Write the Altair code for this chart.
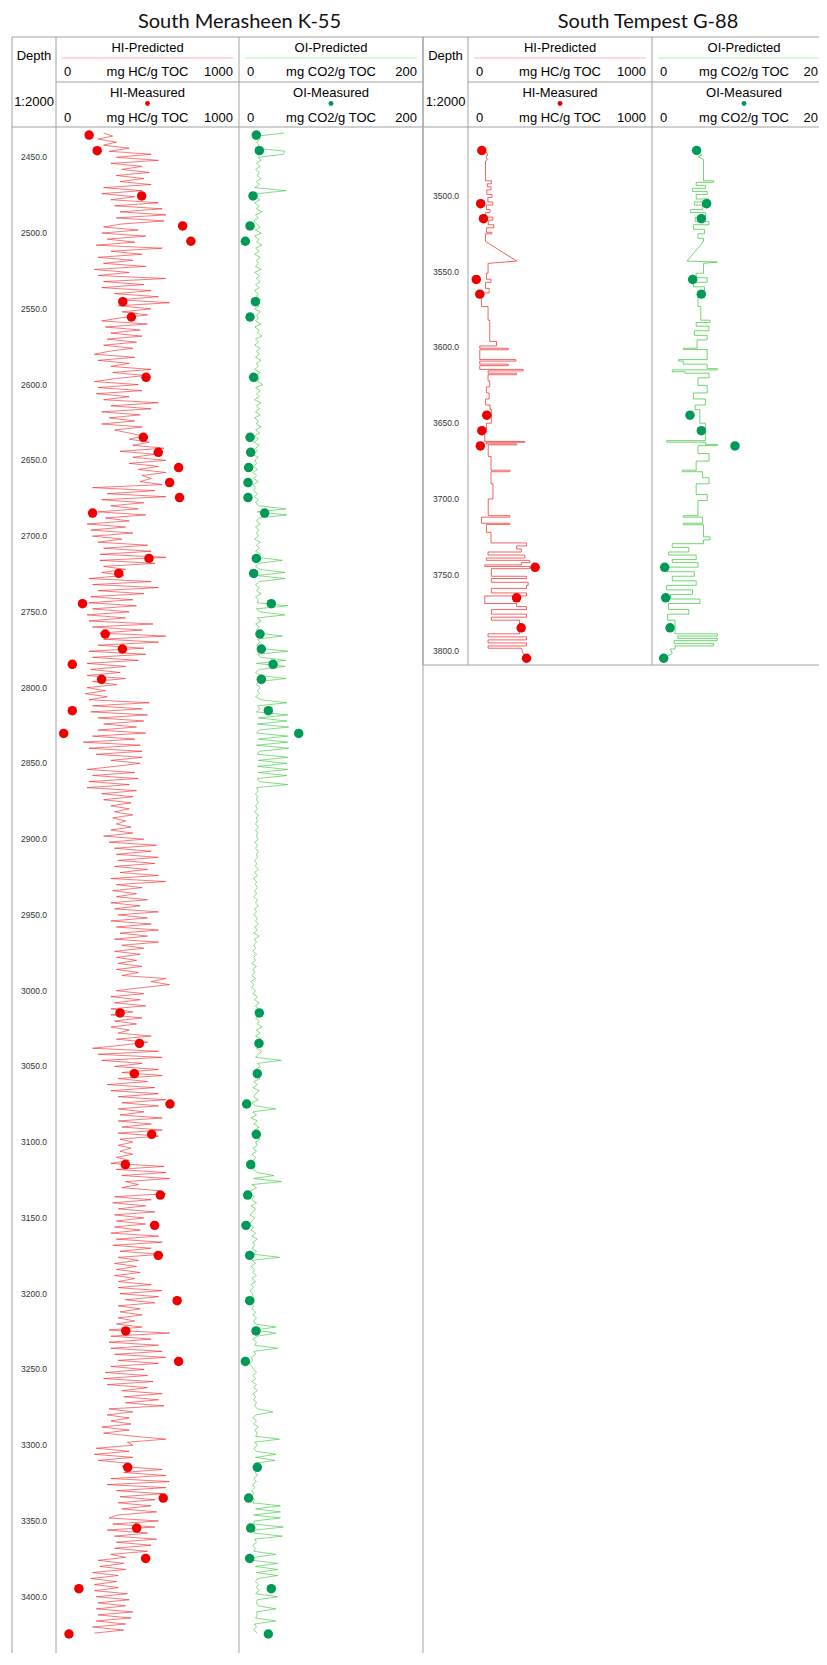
import altair as alt
import pandas as pd

# ---------------- data ----------------
TITLE_1 = "South Merasheen K-55"
TITLE_2 = "South Tempest G-88"

# South Merasheen K-55 : predicted curves sampled every 2 m from 2434 m
L_START = 2434
L_STEP = 2
L_HI_PRED = [
    260, 310, 230, 330, 260, 400, 290, 520, 330, 560,
    300, 470, 360, 510, 330, 480, 350, 520, 260, 470,
    250, 430, 300, 560, 320, 580, 350, 600, 330, 590,
    360, 260, 450, 250, 490, 280, 430, 220, 580, 300,
    470, 230, 420, 260, 490, 210, 400, 230, 600, 260,
    480, 250, 520, 320, 560, 350, 620, 340, 520, 360,
    500, 350, 250, 500, 270, 460, 300, 470, 280, 440,
    260, 420, 290, 210, 430, 230, 400, 300, 520, 310,
    490, 330, 210, 450, 230, 470, 220, 400, 260, 560,
    300, 520, 250, 460, 290, 430, 250, 470, 320, 400,
    480, 400, 510, 420, 590, 350, 540, 420, 600, 400,
    560, 450, 600, 470, 520, 460, 580, 200, 540, 280,
    600, 250, 480, 300, 450, 230, 490, 270, 400, 170,
    380, 190, 420, 200, 360, 230, 500, 260, 520, 240,
    600, 240, 540, 260, 380, 250, 370, 180, 520, 200,
    560, 230, 480, 190, 420, 180, 440, 200, 400, 170,
    380, 180, 530, 200, 470, 240, 600, 260, 560, 230,
    480, 180, 490, 200, 450, 170, 380, 190, 350, 170,
    380, 200, 330, 170, 270, 160, 280, 180, 510, 200,
    470, 190, 500, 230, 480, 260, 440, 230, 490, 200,
    430, 150, 460, 180, 470, 220, 470, 300, 460, 320,
    170, 430, 200, 450, 180, 400, 170, 440, 250, 420,
    260, 410, 300, 400, 320, 420, 310, 380, 330, 410,
    300, 420, 260, 480, 290, 550, 320, 520, 330, 560,
    340, 540, 320, 500, 350, 560, 300, 600, 330, 470,
    310, 440, 330, 500, 300, 460, 320, 560, 340, 500,
    300, 520, 330, 560, 350, 500, 320, 560, 360, 480,
    320, 460, 330, 440, 340, 470, 330, 450, 360, 600,
    520, 620, 470, 330, 480, 300, 460, 320, 490, 300,
    420, 300, 470, 320, 440, 300, 400, 340, 520, 330,
    500, 360, 200, 560, 230, 580, 250, 470, 320, 560,
    360, 580, 340, 500, 280, 540, 300, 560, 340, 600,
    360, 560, 340, 480, 350, 580, 340, 520, 360, 580,
    340, 560, 350, 420, 340, 410, 350, 420, 330, 400,
    300, 590, 330, 600, 360, 620, 380, 450, 360, 560,
    600, 320, 520, 310, 490, 340, 540, 320, 480, 330,
    490, 320, 460, 300, 560, 330, 580, 310, 520, 350,
    580, 340, 450, 320, 440, 330, 460, 320, 430, 340,
    520, 340, 580, 350, 560, 380, 540, 340, 460, 350,
    470, 340, 430, 330, 470, 290, 620, 300, 520, 290,
    560, 300, 580, 320, 600, 340, 560, 300, 480, 270,
    500, 260, 530, 280, 500, 360, 580, 370, 560, 380,
    590, 290, 420, 280, 400, 300, 410, 250, 400, 260,
    420, 600, 390, 420, 220, 400, 210, 420, 230, 400,
    360, 580, 370, 600, 300, 620, 280, 600, 330, 580,
    350, 540, 340, 520, 360, 550, 340, 290, 560, 310,
    540, 280, 500, 320, 550, 330, 520, 320, 500, 300,
    380, 230, 370, 240, 380, 200, 340, 190, 330, 210,
    340, 210, 390, 220, 400, 230, 380, 220, 420, 230,
    410, 220, 380, 200, 370, 210,
]
L_OI_PRED = [
    49, 20, 23, 19, 22, 18, 50, 48, 21, 24,
    19, 23, 18, 22, 20, 24, 19, 22, 17, 51,
    21, 18, 23, 17, 22, 19, 25, 18, 21, 16,
    19, 23, 18, 24, 17, 22, 19, 25, 18, 22,
    17, 23, 19, 21, 18, 24, 17, 22, 19, 23,
    18, 22, 17, 21, 19, 24, 18, 22, 17, 23,
    19, 21, 18, 24, 17, 22, 20, 25, 18, 21,
    17, 23, 19, 22, 18, 24, 19, 21, 17, 23,
    18, 22, 20, 26, 18, 23, 19, 22, 17, 24,
    19, 22, 18, 23, 17, 21, 19, 24, 18, 22,
    17, 21, 16, 22, 18, 20, 15, 21, 17, 19,
    16, 20, 15, 19, 16, 21, 15, 18, 16, 20,
    17, 21, 18, 22, 51, 20, 52, 22, 19, 23,
    18, 22, 19, 21, 17, 23, 19, 22, 18, 24,
    20, 47, 21, 18, 23, 50, 19, 50, 22, 18,
    22, 19, 24, 18, 21, 20, 53, 19, 23, 50,
    20, 24, 18, 22, 19, 21, 47, 20, 23, 19,
    22, 53, 20, 24, 51, 19, 50, 22, 18, 24,
    51, 21, 19, 23, 20, 22, 18, 24, 52, 20,
    23, 19, 53, 21, 52, 20, 54, 22, 19, 53,
    21, 53, 19, 54, 22, 20, 53, 21, 52, 20,
    53, 21, 52, 20, 22, 53, 19, 21, 18, 20,
    19, 21, 18, 20, 17, 21, 19, 20, 18, 21,
    18, 20, 19, 21, 17, 20, 18, 21, 19, 20,
    17, 19, 18, 21, 17, 20, 16, 19, 18, 20,
    17, 19, 16, 20, 18, 21, 17, 19, 16, 20,
    18, 21, 17, 20, 16, 22, 17, 19, 16, 18,
    15, 19, 16, 18, 14, 19, 15, 17, 14, 18,
    13, 16, 14, 18, 15, 20, 17, 22, 18, 21,
    19, 24, 18, 22, 20, 25, 19, 23, 18, 24,
    20, 23, 19, 25, 21, 18, 46, 20, 23, 18,
    21, 17, 23, 16, 20, 15, 22, 18, 16, 21,
    14, 18, 40, 15, 19, 13, 20, 16, 22, 17,
    21, 17, 23, 18, 20, 15, 19, 14, 18, 16,
    13, 18, 15, 20, 38, 16, 46, 14, 19, 13,
    12, 17, 14, 19, 13, 18, 15, 12, 17, 14,
    11, 16, 13, 18, 14, 20, 15, 17, 14, 19,
    16, 44, 14, 18, 13, 17, 15, 19, 14, 18,
    13, 16, 12, 15, 14, 17, 13, 16, 14, 18,
    15, 19, 16, 18, 40, 17, 40, 20, 15, 19,
    17, 42, 16, 18, 13, 15, 11, 14, 16, 19,
    15, 18, 14, 19, 16, 20, 15, 18, 16, 19,
    17, 20, 37, 18, 15, 19, 16, 21, 17, 20,
    18, 44, 17, 20, 16, 19, 40, 18, 39, 17,
    19, 21, 18, 20, 16, 19, 15, 17, 14, 16,
    13, 17, 15, 45, 18, 45, 16, 45, 17, 16,
    48, 18, 16, 47, 17, 19, 15, 18, 16, 40,
    17, 15, 42, 18, 42, 19, 42, 20, 18, 21,
    19, 22, 18, 42, 20, 19, 21, 40, 19, 20,
    18, 40, 17, 19, 16, 20,
]
L_MEAS_DEPTH = [2435.3, 2445.6, 2475.5, 2495.3, 2505.4, 2545.3, 2555.4, 2595.2,
                2634.8, 2644.7, 2654.8, 2664.7, 2674.6, 2684.8, 2714.7, 2724.6,
                2744.6, 2764.6, 2774.5, 2784.6, 2794.5, 2815.2, 2830.2, 3014.7,
                3034.8, 3054.8, 3074.8, 3094.8, 3114.8, 3134.9, 3154.9, 3174.7,
                3204.6, 3224.6, 3244.7, 3314.6, 3334.9, 3354.7, 3374.7, 3394.7, 3424.6]
L_HI_MEAS = [181, 225, 468, 692, 737, 365, 412, 492, 477, 559, 670, 621, 675, 200,
             508, 343, 145, 269, 363, 89, 249, 89, 42, 350, 456, 428, 623, 523, 379,
             570, 539, 559, 662, 381, 670, 392, 586, 441, 490, 125, 71]
L_OI_MEAS = [18.8, 22.1, 15.2, 12.0, 6.9, 17.8, 12.0, 15.9, 12.0, 12.7, 10.5, 9.8,
             9.8, 27.9, 18.8, 15.9, 35.1, 22.8, 24.3, 37.0, 24.3, 31.9, 64.9, 22.1,
             21.7, 19.9, 8.3, 18.8, 12.7, 9.4, 7.6, 11.6, 11.6, 18.5, 6.9, 19.9,
             10.5, 12.7, 11.6, 35.1, 31.9]
L_TICKS = [2450, 2500, 2550, 2600, 2650, 2700, 2750, 2800, 2850, 2900, 2950, 3000,
           3050, 3100, 3150, 3200, 3250, 3300, 3350, 3400]

# South Tempest G-88 : blocky predicted curves as (depth, value) vertices
R_HI_PRED = [
    [3471, 100], [3473, 108], [3474, 98], [3476, 105], [3477, 95], [3490, 95],
    [3490, 127], [3492, 127], [3492, 105], [3494, 105], [3494, 125], [3496, 125],
    [3496, 102], [3499, 102], [3499, 130], [3501, 130], [3501, 108], [3504, 108],
    [3504, 135], [3506, 135], [3506, 100], [3509, 100], [3509, 120], [3511, 120],
    [3511, 96], [3514, 96], [3514, 135], [3516, 135], [3516, 110], [3519, 110],
    [3519, 140], [3521, 140], [3521, 100], [3524, 100], [3524, 130], [3525, 130],
    [3525, 95], [3530, 95], [3543, 264], [3544.5, 109], [3551, 109], [3551, 100],
    [3555, 100], [3555, 125], [3557, 125], [3557, 95], [3561, 95], [3561, 115],
    [3564, 115], [3564, 73], [3573, 73], [3573, 109], [3582, 109], [3582, 118],
    [3596, 118], [3596, 155], [3599, 155], [3599, 64], [3600.5, 64], [3600.5, 218],
    [3601.5, 218], [3601.5, 64], [3608, 64], [3608, 260], [3609, 260], [3609, 64],
    [3611, 64], [3611, 218], [3612, 218], [3612, 64], [3614.5, 64], [3614.5, 300],
    [3615.5, 300], [3615.5, 109], [3617, 109], [3617, 264], [3618, 264], [3618, 109],
    [3622, 109], [3622, 118], [3626, 118], [3626, 100], [3630, 100], [3630, 115],
    [3634, 115], [3634, 95], [3638, 95], [3638, 120], [3641, 120], [3641, 127],
    [3650, 127], [3650, 100], [3656, 100], [3656, 91], [3662, 91], [3662, 309],
    [3662.6, 309], [3662.6, 100], [3663.6, 100], [3663.6, 264], [3664.3, 264],
    [3664.3, 110], [3672, 110], [3672, 125], [3681, 125], [3681, 227], [3682, 227],
    [3682, 125], [3690, 125], [3690, 136], [3700, 136], [3700, 110], [3711, 110],
    [3711, 227], [3712, 227], [3712, 73], [3716, 73], [3716, 227], [3716.8, 227],
    [3716.8, 100], [3722, 100], [3722, 125], [3729, 125], [3729, 318], [3731, 318],
    [3731, 264], [3733, 264], [3733, 290], [3735, 290], [3735, 109], [3737, 109],
    [3737, 309], [3739, 309], [3739, 100], [3740.5, 100], [3740.5, 336], [3742, 336],
    [3742, 290], [3743.5, 290], [3743.5, 91], [3744.5, 91], [3744.5, 336], [3746, 336],
    [3746, 127], [3751, 127], [3751, 318], [3752.5, 318], [3752.5, 127], [3755, 127],
    [3755, 327], [3757, 327], [3757, 318], [3759, 318], [3759, 127], [3762, 127],
    [3762, 318], [3764, 318], [3764, 91], [3769, 91], [3769, 264], [3771, 264],
    [3771, 318], [3773, 318], [3773, 127], [3776, 127], [3776, 318], [3778, 318],
    [3778, 127], [3780, 127], [3780, 280], [3789, 280], [3789, 109], [3791, 109],
    [3791, 318], [3793, 318], [3793, 109], [3795, 109], [3795, 318], [3797, 318],
    [3797, 109], [3798.5, 109], [3798.5, 290], [3802, 300], [3805, 318],
]
R_OI_PRED = [
    [3471, 49], [3473, 54], [3474, 50], [3476, 56], [3490, 56], [3490, 67],
    [3491, 67], [3491, 48], [3493, 48], [3493, 58], [3495, 58], [3495, 44],
    [3497, 44], [3497, 60], [3499, 60], [3499, 48], [3502, 48], [3502, 62],
    [3504, 62], [3504, 46], [3506, 46], [3506, 55], [3509, 55], [3509, 42],
    [3511, 42], [3511, 58], [3514, 58], [3514, 47], [3517, 47], [3517, 62],
    [3519, 62], [3519, 45], [3522, 45], [3522, 57], [3525, 57], [3525, 50],
    [3528, 50], [3528, 56], [3530, 56], [3543, 38], [3543.6, 71], [3544.5, 56],
    [3551, 56], [3551, 48], [3554, 48], [3554, 60], [3557, 60], [3557, 45],
    [3560, 45], [3560, 57], [3564, 57], [3564, 50], [3573, 50], [3573, 53],
    [3582, 53], [3582, 63], [3583.5, 63], [3583.5, 48], [3586, 48], [3586, 62],
    [3589, 62], [3589, 46], [3592, 46], [3592, 60], [3595, 60], [3595, 49],
    [3600.5, 49], [3600.5, 34], [3601.3, 34], [3601.3, 60], [3608, 60], [3608, 29],
    [3609, 29], [3609, 34], [3611, 34], [3611, 60], [3614, 60], [3614, 71],
    [3614.8, 71], [3614.8, 22], [3616, 22], [3616, 36], [3617, 36], [3617, 62],
    [3620, 62], [3620, 50], [3625, 50], [3625, 60], [3630, 60], [3630, 45],
    [3634, 45], [3634, 58], [3638, 58], [3638, 47], [3641, 47], [3641, 52],
    [3650, 52], [3650, 58], [3661.5, 58], [3661.5, 16], [3662.5, 16], [3662.5, 58],
    [3664, 58], [3664, 71], [3664.8, 71], [3664.8, 50], [3670, 50], [3670, 62],
    [3675, 62], [3675, 48], [3681, 48], [3681, 33], [3682, 33], [3682, 55],
    [3686, 55], [3686, 62], [3690, 62], [3690, 48], [3697, 48], [3697, 60],
    [3701, 60], [3701, 50], [3711, 50], [3711, 34], [3712, 34], [3712, 55],
    [3716, 55], [3716, 34], [3717, 34], [3717, 56], [3725, 56], [3725, 63],
    [3727, 63], [3727, 56], [3729.5, 56], [3729.5, 22], [3732, 22], [3732, 40],
    [3735, 40], [3735, 18], [3737, 18], [3737, 48], [3740, 48], [3740, 22],
    [3742, 22], [3742, 50], [3745, 50], [3745, 16], [3748, 16], [3748, 46],
    [3751, 46], [3751, 22], [3754, 22], [3754, 48], [3757, 48], [3757, 16],
    [3760, 16], [3760, 44], [3763, 44], [3763, 20], [3766, 20], [3766, 52],
    [3769, 52], [3769, 18], [3773, 18], [3773, 40], [3776, 40], [3776, 17],
    [3780, 17], [3780, 25], [3789, 25], [3789, 71], [3790.5, 71], [3790.5, 28],
    [3792, 28], [3792, 71], [3793.5, 71], [3793.5, 24], [3795.5, 24], [3795.5, 67],
    [3797, 67], [3797, 25], [3799, 25], [3799, 20], [3802, 22], [3805, 13],
]
R_MEAS_DEPTH = [3470.0, 3505.1, 3515.0, 3555.1, 3564.8, 3644.7, 3654.9, 3665.0,
                3745.1, 3765.2, 3785.0, 3805.1]
R_HI_MEAS = [75, 69, 84, 45, 64, 102, 75, 67, 365, 264, 289, 318]
R_OI_MEAS = [48.5, 59.4, 53.6, 44.2, 53.6, 41.3, 53.6, 90.2, 13.8, 14.9, 19.6, 12.7]
R_TICKS = [3500, 3550, 3600, 3650, 3700, 3750, 3800]

# ---------------- styling / layout ----------------
FONT = "Liberation Sans"
TITLE_FONT = "Lato"
BORDER = "#a0a0a0"
RED_LINE = "#ee2222"
GREEN_LINE = "#33c433"
RED_DOT = "#ee0000"
GREEN_DOT = "#009a58"
PINK = "#ffb3b3"
LGREEN = "#b3f0b3"

W, H = 811, 1645            # whole chart (single view)
PX_PER_M = 1.5152
HEAD_TOP, HEAD_MID, HEAD_BOT = 29, 74, 119
L_BOTTOM = H
R_BOTTOM = 657
L_TOP_D = 2430.0
R_TOP_D = 3454.5
# column edges (pixels inside the view)
LX = [4, 48, 231, 415]           # left well: depth | HI | OI | end
RX = [415, 460, 644, 828]        # right well: depth | HI | OI | end (off the page)

ONE = pd.DataFrame({"k": [0]})


def vrule(x, y0, y1, color=BORDER, width=1):
    return alt.Chart(ONE).mark_rule(color=color, strokeWidth=width).encode(
        x=alt.value(x), y=alt.value(y0), y2=alt.value(y1))


def hrule(y, x0, x1, color=BORDER, width=1):
    return alt.Chart(ONE).mark_rule(color=color, strokeWidth=width).encode(
        y=alt.value(y), x=alt.value(x0), x2=alt.value(min(x1, W)))


def txt(x, y, s, size=13, align="center", font=FONT, color="#000"):
    return alt.Chart(ONE).mark_text(fontSize=size, font=font, align=align,
                                    baseline="alphabetic", color=color).encode(
        x=alt.value(x), y=alt.value(y), text=alt.value(s))


def dot(x, y, color):
    return alt.Chart(ONE).mark_circle(size=24, color=color, opacity=1).encode(
        x=alt.value(x), y=alt.value(y))


def header(title, title_x, xs, bottom_y, right_edge):
    x_d, x_hi, x_oi, x_end = xs
    layers = [txt(title_x, 20, title, size=20, font=TITLE_FONT, color="#111")]
    layers += [hrule(HEAD_TOP, x_d, x_end), hrule(HEAD_BOT, x_d, x_end),
               hrule(HEAD_MID, x_hi, x_end)]
    for x in [x_d, x_hi, x_oi] + ([x_end] if right_edge else []):
        layers.append(vrule(x, HEAD_TOP, bottom_y))
    cxd = (x_d + x_hi) / 2
    layers.append(txt(cxd, 52, "Depth"))
    layers.append(txt(cxd, 98, "1:2000"))
    tracks = [(x_hi, x_oi, "HI-Predicted", "HI-Measured", "mg HC/g TOC", "1000", PINK, RED_DOT),
              (x_oi, x_end, "OI-Predicted", "OI-Measured", "mg CO2/g TOC", "200", LGREEN, GREEN_DOT)]
    for x0, x1, pname, mname, unit, vmax, lcol, dcol in tracks:
        cx = (x0 + x1) / 2
        layers.append(txt(cx, 43.7, pname))
        layers.append(hrule(50, x0 + 6, x1 - 6, color=lcol, width=1.2))
        for yb in (68, 113.7):
            layers.append(txt(x0 + 8, yb, "0", align="left"))
            layers.append(txt(cx, yb, unit))
            if x1 - 6 <= W:
                layers.append(txt(x1 - 6, yb, vmax, align="right"))
            else:
                layers.append(txt(W - 1, yb, vmax[:-1], align="right"))
        layers.append(txt(cx, 88.7, mname))
        layers.append(dot(cx, 95.5, dcol))
    return layers


def yscale(top_d, y0, y1):
    return alt.Scale(domain=[top_d, top_d + (y1 - y0) / PX_PER_M],
                     range=[y0, y1], nice=False, zero=False)


def depth_labels(ticks, ys, cx):
    df = pd.DataFrame({"d": ticks, "t": [f"{t:.1f}" for t in ticks]})
    return alt.Chart(df).mark_text(fontSize=8.5, font=FONT, color="#333", baseline="middle").encode(
        x=alt.value(cx), y=alt.Y("d:Q", scale=ys, axis=None), text="t:N")


def track(pred, meas, xmax, x0, x1, ys, lcol, dcol, sw):
    xs = alt.Scale(domain=[0, xmax], range=[x0, x1], nice=False, zero=False)
    x = alt.X("v:Q", scale=xs, axis=None)
    y = alt.Y("d:Q", scale=ys, axis=None)
    line = alt.Chart(pred).mark_line(color=lcol, strokeWidth=sw).encode(x=x, y=y, order="i:Q")
    pts = alt.Chart(meas).mark_circle(size=90, color=dcol, opacity=1).encode(x=x, y=y)
    return [line, pts]


# data frames
l_hi = pd.DataFrame({"i": range(len(L_HI_PRED)),
                     "d": [L_START + L_STEP * k for k in range(len(L_HI_PRED))],
                     "v": L_HI_PRED})
l_oi = pd.DataFrame({"i": range(len(L_OI_PRED)),
                     "d": [L_START + L_STEP * k for k in range(len(L_OI_PRED))],
                     "v": L_OI_PRED})
l_hi_m = pd.DataFrame({"d": L_MEAS_DEPTH, "v": L_HI_MEAS})
l_oi_m = pd.DataFrame({"d": L_MEAS_DEPTH, "v": L_OI_MEAS})
r_hi = pd.DataFrame({"i": range(len(R_HI_PRED)),
                     "d": [p[0] for p in R_HI_PRED], "v": [p[1] for p in R_HI_PRED]})
r_oi = pd.DataFrame({"i": range(len(R_OI_PRED)),
                     "d": [p[0] for p in R_OI_PRED], "v": [p[1] for p in R_OI_PRED]})
r_hi_m = pd.DataFrame({"d": R_MEAS_DEPTH, "v": R_HI_MEAS})
r_oi_m = pd.DataFrame({"d": R_MEAS_DEPTH, "v": R_OI_MEAS})

ys_l = yscale(L_TOP_D, HEAD_BOT, L_BOTTOM)
ys_r = yscale(R_TOP_D, HEAD_BOT, R_BOTTOM)

layers = []
# data tracks
layers += track(l_hi, l_hi_m, 1000, LX[1], LX[2], ys_l, RED_LINE, RED_DOT, 0.6)
layers += track(l_oi, l_oi_m, 200, LX[2], LX[3], ys_l, GREEN_LINE, GREEN_DOT, 0.6)
layers += track(r_hi, r_hi_m, 1000, RX[1], RX[2], ys_r, RED_LINE, RED_DOT, 0.7)
layers += track(r_oi, r_oi_m, 200, RX[2], RX[3], ys_r, GREEN_LINE, GREEN_DOT, 0.7)
layers.append(depth_labels(L_TICKS, ys_l, (LX[0] + LX[1]) / 2))
layers.append(depth_labels(R_TICKS, ys_r, (RX[0] + RX[1]) / 2 + 0.5))
# headers and frames
layers += header(TITLE_1, (LX[1] + LX[3]) / 2, LX, L_BOTTOM, True)
layers += header(TITLE_2, 640, RX, R_BOTTOM, False)
layers.append(hrule(R_BOTTOM, RX[0], RX[3]))

chart = alt.layer(*layers).resolve_scale(x="independent", y="independent").properties(
    width=W, height=H, padding=0,
    autosize=alt.AutoSizeParams(type="none"),
    background="white",
).configure_view(strokeWidth=0)

chart.save("out.html", embed_options={"renderer": "svg", "actions": False})
